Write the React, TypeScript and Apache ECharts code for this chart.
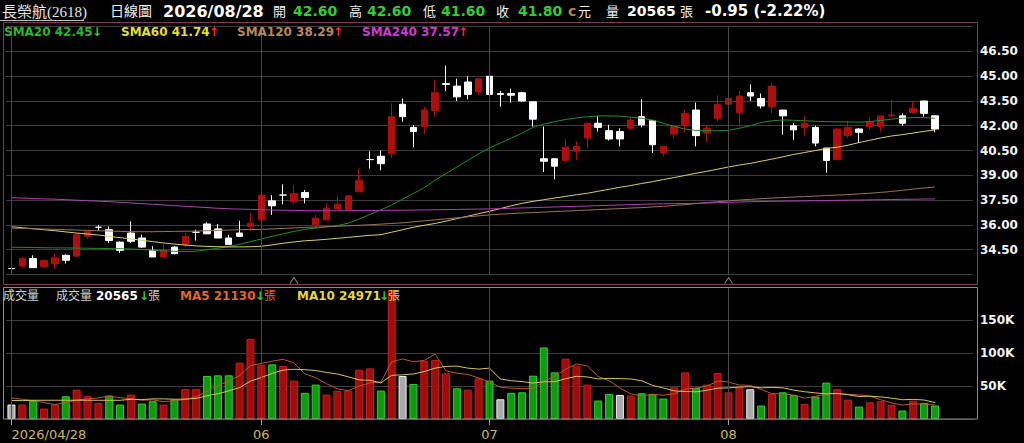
import React, { useEffect, useRef } from 'react';
import * as echarts from 'echarts';

// ---- data ----
const stockName = '長榮航(2618)';
const lastDate = '2026/08/28';
const tickIndex = [0, 23, 44, 66];
const tickLabels = ['2026/04/28', '06', '07', '08'];
const markerIndex = [26, 66];
const slotCount = 89;

const opens = [33.35,33.50,33.95,33.45,33.65,34.15,34.10,35.30,35.85,35.70,
 34.95,35.50,35.20,34.45,34.05,34.65,34.80,35.55,36.05,35.75,
 35.20,35.50,35.90,36.30,37.45,37.80,37.40,37.95,36.00,36.30,
 36.95,36.90,38.00,39.95,40.15,40.30,43.30,41.90,41.95,42.90,
 44.55,44.40,44.65,44.05,45.00,43.95,43.95,44.00,43.45,40.00,
 40.00,39.90,40.45,41.25,42.15,41.70,41.65,41.85,42.55,42.30,
 40.35,41.50,42.05,42.95,41.55,42.45,43.30,42.80,44.00,43.65,
 43.15,42.95,42.00,41.90,41.90,40.65,39.95,41.40,41.80,41.95,
 41.95,42.60,42.60,42.80,43.50,42.60];
const highs = [33.55,34.05,34.15,33.85,34.25,34.20,35.50,35.60,36.00,35.90,
 35.00,36.20,35.40,34.70,34.85,34.70,35.50,35.70,36.15,36.05,
 35.40,36.25,36.70,37.90,37.80,38.45,38.40,38.10,36.60,37.30,
 37.75,37.80,39.40,40.45,40.50,43.35,43.65,42.05,43.15,44.80,
 45.65,44.85,45.00,44.90,45.00,44.10,44.25,44.05,43.45,41.95,
 40.00,41.20,41.05,42.20,42.60,42.05,41.85,42.50,43.60,42.30,
 40.75,42.00,42.95,43.40,42.05,43.85,43.80,44.10,44.50,43.95,
 44.55,42.95,42.15,42.60,42.00,40.65,41.85,42.30,41.85,42.50,
 42.60,43.60,42.75,43.45,43.50,42.60];
const lows = [33.20,33.40,33.40,33.45,33.30,33.65,34.05,35.15,35.65,34.90,
 34.30,34.90,34.60,34.05,34.00,34.20,34.65,35.05,35.45,35.20,
 34.80,35.25,35.65,36.20,36.60,37.25,37.25,37.30,35.80,36.25,
 36.90,36.85,37.95,39.40,39.30,40.05,42.25,40.70,41.50,42.55,
 44.10,43.50,43.60,43.85,43.30,43.15,43.40,43.45,41.95,39.20,
 38.75,39.75,39.90,40.65,41.65,41.10,40.75,41.75,41.90,40.35,
 40.15,41.25,41.60,40.75,41.00,42.25,42.85,41.95,43.50,43.05,
 42.75,41.45,41.15,41.40,40.75,39.15,39.90,41.25,40.95,41.75,
 41.65,42.50,42.00,42.75,42.55,41.60];
const closes = [33.35,33.95,33.40,33.85,34.00,33.85,35.40,35.60,35.85,35.05,
 34.45,35.00,34.65,34.05,34.45,34.25,35.30,35.55,35.45,35.20,
 34.80,35.30,36.10,37.80,37.15,37.80,37.90,37.65,36.40,37.00,
 37.25,37.75,38.70,39.95,39.70,42.55,42.55,41.65,42.95,44.00,
 44.50,43.75,43.90,44.85,43.90,43.90,43.85,43.50,42.40,39.85,
 39.55,40.70,40.75,42.15,41.90,41.20,41.20,42.35,42.05,40.85,
 40.75,42.00,42.75,41.40,41.85,43.30,43.65,43.80,43.80,43.20,
 44.40,42.60,41.75,42.15,40.95,39.90,41.80,41.90,41.60,42.25,
 42.60,42.65,42.15,43.05,42.75,41.80];

const volumes = [22000,22000,28000,15900,22000,34600,44700,35100,24500,35600,
 22000,37100,23500,27000,22000,29500,45700,45700,65400,66400,
 66400,85600,122000,82600,83100,80600,58300,39700,52300,37100,
 42700,43200,75000,77000,43200,196000,65400,53300,88600,89700,
 69400,46700,44700,61800,58300,30000,39700,40600,65900,108800,
 70900,91700,81100,52300,28000,38100,36600,35600,39100,38100,
 31100,48200,70900,47200,52300,69900,40600,48200,45200,20500,
 38100,40600,36600,23000,34100,55300,45700,29500,18900,25500,
 27000,21500,12900,28000,24500,20565];
// u = up, d = down, f = flat versus previous close
const volDir = ['f','u','d','u','u','d','u','u','u','d',
 'd','u','d','d','u','d','u','u','d','d',
 'd','u','u','u','d','u','u','d','d','u',
 'u','u','u','u','d','u','f','d','u','u',
 'u','d','u','u','d','f','d','d','d','d',
 'd','u','u','u','d','d','f','u','d','d',
 'd','u','u','d','u','u','u','u','f','d',
 'u','d','d','u','d','d','u','u','d','u',
 'u','u','d','u','d','d'];

const sma20 = [34.64,34.63,34.62,34.61,34.60,34.60,34.59,34.58,34.57,34.56,
 34.55,34.53,34.50,34.46,34.42,34.39,34.37,34.40,34.48,34.58,
 34.68,34.82,34.98,35.14,35.30,35.45,35.60,35.72,35.80,35.87,
 35.95,36.10,36.35,36.62,36.90,37.20,37.55,37.90,38.25,38.70,
 39.10,39.50,39.90,40.30,40.65,40.95,41.25,41.55,41.90,42.10,
 42.25,42.38,42.47,42.55,42.59,42.60,42.58,42.52,42.45,42.35,
 42.15,41.95,41.80,41.72,41.70,41.70,41.72,41.85,42.00,42.20,
 42.30,42.35,42.33,42.30,42.27,42.25,42.24,42.23,42.22,42.25,
 42.32,42.40,42.45,42.50,42.50,42.45];
const sma60 = [35.88,35.82,35.76,35.70,35.64,35.57,35.50,35.44,35.38,35.30,
 35.22,35.14,35.06,34.98,34.90,34.83,34.77,34.72,34.69,34.67,
 34.66,34.66,34.67,34.70,34.78,34.88,34.96,35.03,35.07,35.12,
 35.18,35.24,35.30,35.36,35.40,35.55,35.70,35.85,35.97,36.08,
 36.22,36.37,36.52,36.67,36.82,36.98,37.15,37.30,37.42,37.52,
 37.62,37.72,37.82,37.91,38.03,38.15,38.27,38.38,38.50,38.61,
 38.74,38.86,38.99,39.12,39.24,39.37,39.50,39.62,39.72,39.85,
 39.98,40.12,40.26,40.38,40.50,40.62,40.70,40.82,40.98,41.12,
 41.26,41.38,41.46,41.56,41.66,41.74];
const sma120 = [35.80,35.78,35.76,35.74,35.72,35.70,35.68,35.66,35.64,35.62,
 35.60,35.58,35.58,35.58,35.59,35.60,35.61,35.62,35.64,35.66,
 35.68,35.70,35.71,35.72,35.75,35.78,35.81,35.84,35.86,35.88,
 35.91,35.94,35.97,36.00,36.04,36.08,36.12,36.18,36.24,36.30,
 36.36,36.42,36.48,36.54,36.60,36.64,36.68,36.71,36.74,36.77,
 36.80,36.83,36.86,36.89,36.92,36.95,36.98,37.01,37.04,37.08,
 37.12,37.17,37.22,37.28,37.34,37.40,37.45,37.50,37.54,37.58,
 37.62,37.65,37.68,37.71,37.74,37.77,37.80,37.83,37.87,37.91,
 37.96,38.02,38.09,38.16,38.23,38.29];
const sma240 = [37.64,37.62,37.60,37.57,37.55,37.52,37.49,37.46,37.43,37.40,
 37.36,37.32,37.28,37.24,37.20,37.16,37.12,37.08,37.04,37.00,
 36.97,36.95,36.93,36.91,36.89,36.88,36.87,36.86,36.85,36.85,
 36.85,36.85,36.86,36.86,36.87,36.88,36.88,36.89,36.90,36.91,
 36.92,36.93,36.94,36.95,36.96,36.98,37.00,37.02,37.04,37.06,
 37.08,37.10,37.12,37.14,37.16,37.18,37.20,37.22,37.24,37.26,
 37.27,37.28,37.29,37.30,37.32,37.34,37.36,37.38,37.40,37.41,
 37.42,37.43,37.44,37.45,37.46,37.47,37.48,37.49,37.50,37.51,
 37.52,37.53,37.54,37.55,37.56,37.57];

const volMa5 = [32000,30000,28000,25000,21980,24500,29040,30460,32180,34900,
 32380,30860,28540,29040,26320,27820,29540,33980,41660,50540,
 57920,65900,81160,84600,87940,90780,85320,68860,62800,53600,
 46020,43000,50060,55000,56220,86880,91320,86980,89300,98600,
 73280,69540,67820,62460,56180,48300,46900,46080,46900,57000,
 65180,75580,83680,80960,64800,58240,47220,38120,35480,37500,
 36100,38420,45480,47100,49940,57700,56180,51640,51240,44880,
 38520,38520,36200,31760,34480,37920,38940,37520,36700,34980,
 29320,24480,21160,22980,22780,21130];
const volMa10 = [28000,28000,28500,28500,28500,28500,28500,28500,28500,28440,
 28440,29950,29500,30610,30610,30100,30200,31260,35350,38430,
 42870,47720,57570,63130,69240,74350,75610,75010,73700,70770,
 68400,64160,59460,58900,54910,66450,67160,68520,72150,77410,
 80080,80430,77400,75880,77390,60790,58220,56950,54680,56590,
 56740,61240,64880,63930,60900,61710,61400,60900,58220,51150,
 47170,42820,41800,41290,43720,46900,47300,48560,49170,47410,
 48110,47350,43920,41500,39680,38220,38730,36860,34230,34730,
 33620,31710,29340,29840,28880,24971];

// ---- styles ----
const FONT = "'DejaVu Sans','Noto Sans CJK TC',sans-serif";
const SERIF = "'Liberation Serif','DejaVu Serif','Noto Sans CJK TC',serif";
const RED = '#b00d0d';
const WHITE = '#ffffff';
const UPTXT = '#ff2a2a';
const DNTXT = '#33cc33';
const C20 = '#2bb52b', C60 = '#e2dc36', C120 = '#b8875a', C240 = '#d03ad0';
const L20 = '#1f8f2a', L60 = '#d6cf70', L120 = '#9b7452', L240 = '#b23fb6';
const CMA5 = '#e0662c', CMA10 = '#e6d63a';

function txt(x: number, y: number, text: string, fill: string, size: number, bold = false, family = FONT) {
  return {
    type: 'text', x, y, silent: true, z: 10,
    style: { text, fill, fontSize: size, fontWeight: bold ? 'bold' : 'normal', fontFamily: family, verticalAlign: 'middle', align: 'left' },
  };
}

export default function App() {
  const ref = useRef<HTMLDivElement>(null);
  useEffect(() => {
    document.body.style.margin = '0';
    document.body.style.background = '#000';
    const chart = echarts.init(ref.current!, null, { renderer: 'svg' });
    const n = closes.length;
    const last = n - 1;
    const prev = closes[last - 1];
    const cats = Array.from({ length: slotCount }, (_, i) => String(i));
    const colorVs = (v: number) => (v > prev ? UPTXT : v < prev ? DNTXT : WHITE);
    const chg = closes[last] - prev;
    const chgTxt = `${chg.toFixed(2)} (${(chg / prev * 100).toFixed(2)}%)`;
    const arrow = (a: number[]) => (a[a.length - 1] >= a[a.length - 2] ? '↑' : '↓');
    const arrowCol = (a: number[]) => (a[a.length - 1] >= a[a.length - 2] ? UPTXT : DNTXT);

    const candleData = opens.map((o, i) => {
      const col = closes[i] > o ? RED : WHITE;
      return { value: [o, closes[i], lows[i], highs[i]], itemStyle: { color: col, color0: col, borderColor: col, borderColor0: col } };
    });
    const volData = volumes.map((v, i) => {
      const d = volDir[i];
      const fill = d === 'u' ? '#a30c0c' : d === 'd' ? '#119a11' : '#a9a9a9';
      const bd = d === 'u' ? '#c81c1c' : d === 'd' ? '#2fd02f' : '#f2f2f2';
      return { value: v, itemStyle: { color: fill, borderColor: bd, borderWidth: 1 } };
    });
    const vLines = {
      silent: true, symbol: 'none', label: { show: false },
      lineStyle: { color: '#4a4a4a', width: 1, type: 'solid' },
      data: tickIndex.map((i) => ({ xAxis: cats[i] })),
    };
    const lineS = (name: string, data: number[], color: string, gi: number) => ({
      name, type: 'line', data, xAxisIndex: gi, yAxisIndex: gi, showSymbol: false, symbol: 'none',
      lineStyle: { color, width: 1 }, z: 4, silent: true,
    });

    const fmtV = (v: number) => String(Math.round(v));
    const graphics: any[] = [
      { type: 'rect', shape: { x: 3.5, y: 22.5, width: 974, height: 262 }, style: { fill: 'none', stroke: '#7a3f55', lineWidth: 1 }, silent: true, z: 9 },
      { type: 'rect', shape: { x: 3.5, y: 287.5, width: 974, height: 131.5 }, style: { fill: 'none', stroke: '#8c8c8c', lineWidth: 1 }, silent: true, z: 9 },
      { type: 'line', shape: { x1: 0, y1: 20.5, x2: 84, y2: 20.5 }, style: { stroke: '#bdbdbd', lineWidth: 1 }, silent: true },
      txt(2, 12, stockName, '#e6e6e6', 15, false, SERIF),
      txt(110, 11, '日線圖', '#f2f2f2', 14),
      txt(163, 11, lastDate, '#ffffff', 16, true),
      txt(273, 11, '開', '#f2f2f2', 13),
      txt(293, 11, opens[last].toFixed(2), colorVs(opens[last]), 14, true),
      txt(349, 11, '高', '#f2f2f2', 13),
      txt(367, 11, highs[last].toFixed(2), colorVs(highs[last]), 14, true),
      txt(423, 11, '低', '#f2f2f2', 13),
      txt(441, 11, lows[last].toFixed(2), colorVs(lows[last]), 14, true),
      txt(496, 11, '收', '#f2f2f2', 13),
      txt(518, 11, closes[last].toFixed(2), colorVs(closes[last]), 14, true),
      txt(568, 11, 'c', '#b8804a', 14, true),
      txt(578, 11, '元', '#f2f2f2', 13),
      txt(606, 11, '量', '#f2f2f2', 13),
      txt(627, 11, fmtV(volumes[last]), '#ffffff', 14, true),
      txt(680, 11, '張', '#f2f2f2', 13),
      txt(705, 11, chgTxt, '#ffffff', 15, true),

      txt(4, 32, `SMA20 ${sma20[last].toFixed(2)}`, C20, 12, true),
      txt(92, 32, arrow(sma20), arrowCol(sma20), 12, true),
      txt(121, 32, `SMA60 ${sma60[last].toFixed(2)}`, C60, 12, true),
      txt(209, 32, arrow(sma60), arrowCol(sma60), 12, true),
      txt(237, 32, `SMA120 ${sma120[last].toFixed(2)}`, C120, 12, true),
      txt(333, 32, arrow(sma120), arrowCol(sma120), 12, true),
      txt(362, 32, `SMA240 ${sma240[last].toFixed(2)}`, C240, 12, true),
      txt(458, 32, arrow(sma240), arrowCol(sma240), 12, true),

      txt(3, 296, '成交量', '#cfcfcf', 12),
      txt(56, 296, '成交量', '#cfcfcf', 12),
      txt(96, 296, fmtV(volumes[last]), '#ffffff', 12, true),
      txt(139, 296, volumes[last] >= volumes[last - 1] ? '↑' : '↓', volumes[last] >= volumes[last - 1] ? UPTXT : DNTXT, 12, true),
      txt(148, 296, '張', '#cfcfcf', 12),
      txt(180, 296, `MA5 ${fmtV(volMa5[last])}`, CMA5, 12, true),
      txt(255, 296, arrow(volMa5), arrowCol(volMa5), 12, true),
      txt(264, 296, '張', CMA5, 12),
      txt(297, 296, `MA10 ${fmtV(volMa10[last])}`, CMA10, 12, true),
      txt(379, 296, arrow(volMa10), arrowCol(volMa10), 12, true),
      txt(388, 296, '張', CMA10, 12),
    ];

    const gridLeft = 6;
    const gridWidth = 967;
    const option: any = {
      animation: false,
      backgroundColor: '#000000',
      grid: [
        { left: gridLeft, width: gridWidth, top: 26.7, height: 247.6 },
        { left: gridLeft, width: gridWidth, top: 287.5, height: 131.5 },
      ],
      xAxis: [
        { type: 'category', gridIndex: 0, data: cats, boundaryGap: true, axisLine: { show: false }, axisTick: { show: false }, axisLabel: { show: false }, splitLine: { show: false } },
        {
          type: 'category', gridIndex: 1, data: cats, boundaryGap: true,
          axisLine: { show: false },
          axisTick: { show: true, alignWithLabel: true, length: 6, interval: (idx: number) => tickIndex.includes(idx), lineStyle: { color: '#a0a0a0' } },
          axisLabel: {
            show: true, interval: (idx: number) => tickIndex.includes(idx),
            formatter: (_v: string, idx: number) => { const k = tickIndex.indexOf(idx); return k >= 0 ? tickLabels[k] : ''; },
            color: '#c9b862', fontFamily: FONT, fontSize: 13, margin: 9, alignMinLabel: 'left',
          },
          splitLine: { show: false },
        },
      ],
      yAxis: [
        {
          type: 'value', gridIndex: 0, position: 'right', min: 33, max: 48, interval: 1.5, scale: false,
          axisLine: { show: false }, axisTick: { show: false },
          axisLabel: { color: '#f4f4f4', fontFamily: FONT, fontSize: 12, fontWeight: 'bold', margin: 7, showMinLabel: false, showMaxLabel: false, formatter: (v: number) => v.toFixed(2) },
          splitLine: { show: true, lineStyle: { color: '#3d3d3d', width: 1 } },
        },
        {
          type: 'value', gridIndex: 1, position: 'right', min: 0, max: 200000, interval: 50000,
          axisLine: { show: false }, axisTick: { show: false },
          axisLabel: { color: '#f4f4f4', fontFamily: FONT, fontSize: 12, fontWeight: 'bold', margin: 7, showMinLabel: false, showMaxLabel: false, formatter: (v: number) => `${v / 1000}K` },
          splitLine: { show: true, lineStyle: { color: '#3d3d3d', width: 1 } },
        },
      ],
      series: [
        {
          type: 'candlestick', xAxisIndex: 0, yAxisIndex: 0, data: candleData, barWidth: 7, z: 3, silent: true,
          itemStyle: { borderWidth: 1 }, markLine: vLines,
        },
        lineS('SMA20', sma20, L20, 0),
        lineS('SMA60', sma60, L60, 0),
        lineS('SMA120', sma120, L120, 0),
        lineS('SMA240', sma240, L240, 0),
        {
          type: 'scatter', xAxisIndex: 0, yAxisIndex: 0, clip: false, silent: true,
          data: markerIndex.map((i) => [cats[i], 32.62]),
          symbol: 'path://M0 10 L5 0 L10 10', symbolSize: [8, 6],
          itemStyle: { color: 'rgba(0,0,0,0)', borderColor: '#8fa38f', borderWidth: 1 }, z: 5,
        },
        {
          type: 'bar', xAxisIndex: 1, yAxisIndex: 1, data: volData, barWidth: 8, z: 3, silent: true, markLine: vLines,
        },
        lineS('MA5', volMa5, '#b8582e', 1),
        lineS('MA10', volMa10, '#d4c45a', 1),
      ],
      graphic: graphics,
    };
    chart.setOption(option);
    return () => chart.dispose();
  }, []);
  return <div ref={ref} style={{ width: 1024, height: 443, background: '#000' }} />;
}
